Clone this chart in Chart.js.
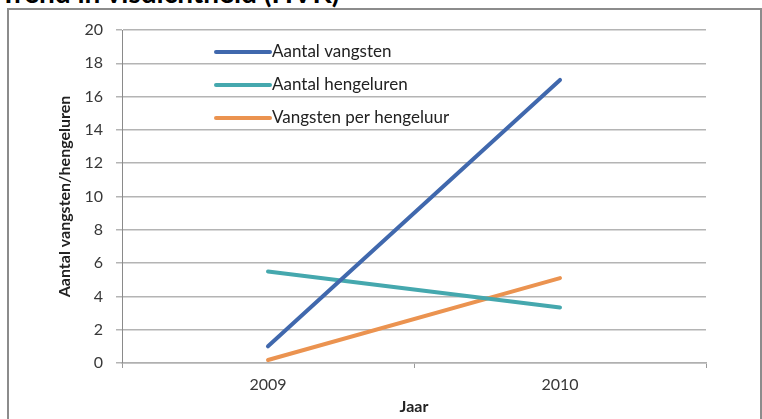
<!DOCTYPE html>
<html>
<head>
<meta charset="utf-8">
<script src="https://cdn.jsdelivr.net/npm/chart.js@4"></script>
<style>
  html, body { margin: 0; padding: 0; background: #fff; overflow: hidden; }
  #page { position: relative; width: 762px; height: 419px; }
  #kop { position: absolute; left: 0; top: -22px; font: bold 28px Lato, sans-serif; line-height: 1; color: #000; white-space: nowrap; }
  #kader { position: absolute; left: 7px; top: 8px; width: 751px; height: 430px; border: 2px solid #8c8c8c; }
  #wrap { position: absolute; left: 0; top: 0; width: 762px; height: 419px; }
</style>
</head>
<body>
<div id="page">
  <div id="kop">Trend in visdichtheid (HVK)</div>
  <div id="kader"></div>
  <div id="wrap"><canvas id="grafiek"></canvas></div>
</div>
<script>
const jaren = ['2009', '2010']
const vangsten = [1, 17]
const hengeluren = [5.5, 3.33]
const perUur = [0.18, 5.1]
const reeksen = ['Aantal vangsten', 'Aantal hengeluren', 'Vangsten per hengeluur']
const kleuren = ['#4068ad', '#45a8ae', '#eb9350']

const lettertype = 'Lato, "Liberation Sans", sans-serif'

// legenda staat in het plotvlak, links boven
const legendaPlugin = {
  id: 'legendaBinnen',
  afterDraw(chart) {
    const c = chart.ctx
    const rijen = [52, 85, 118]
    c.save()
    chart.data.datasets.forEach((ds, i) => {
      c.strokeStyle = ds.borderColor
      c.lineWidth = 4
      c.lineCap = 'round'
      c.beginPath()
      c.moveTo(216, rijen[i])
      c.lineTo(270, rijen[i])
      c.stroke()
      c.fillStyle = '#222'
      c.font = '17px ' + lettertype
      c.textBaseline = 'middle'
      c.textAlign = 'left'
      c.fillText(ds.label, 272, rijen[i])
    })
    c.restore()
  }
}

var ctx = document.getElementById('grafiek').getContext('2d');

var lijnGrafiek = new Chart(ctx, {
type: 'line',
data: {
    labels: jaren,
    datasets: [
        { label: reeksen[0], data: vangsten, borderColor: kleuren[0] },
        { label: reeksen[1], data: hengeluren, borderColor: kleuren[1] },
        { label: reeksen[2], data: perUur, borderColor: kleuren[2] }
    ]
},
options: {
    responsive: true,
    maintainAspectRatio: false,
    animation: false,
    layout: { padding: { left: 0, right: 56, top: 30, bottom: 0 } },
    elements: {
        line: { borderWidth: 4, tension: 0, borderCapStyle: 'round' },
        point: { radius: 0, hoverRadius: 0 }
    },
    scales: {
        x: {
            offset: true,
            afterFit: s => { s.height = 56 },
            grid: {
                offset: true,
                drawOnChartArea: false,
                drawTicks: true,
                tickLength: 5,
                color: '#9a9a9a',
                lineWidth: 1
            },
            border: { color: '#b0b0b0', width: 1.5 },
            ticks: {
                color: '#383838',
                padding: 7,
                font: { family: lettertype, size: 16 }
            },
            title: {
                display: true,
                text: 'Jaar',
                color: '#222',
                padding: { top: 0, bottom: 3 },
                font: { family: lettertype, size: 16, weight: 'bold' }
            }
        },
        y: {
            min: 0,
            max: 20,
            afterFit: s => { s.width = 122 },
            grid: {
                color: '#b4b4b4',
                lineWidth: 1.5,
                tickLength: 6
            },
            border: { color: '#8a8a8a', width: 1 },
            ticks: {
                stepSize: 2,
                color: '#383838',
                padding: 13,
                font: { family: lettertype, size: 16 }
            },
            title: {
                display: true,
                text: 'Aantal vangsten/hengeluren',
                color: '#222',
                padding: { top: 55, bottom: 0 },
                font: { family: lettertype, size: 16, weight: 'bold' }
            }
        }
    },
    plugins: {
        legend: { display: false },
        tooltip: { enabled: false }
    }
},
plugins: [legendaPlugin]
});
</script>
</body>
</html>
